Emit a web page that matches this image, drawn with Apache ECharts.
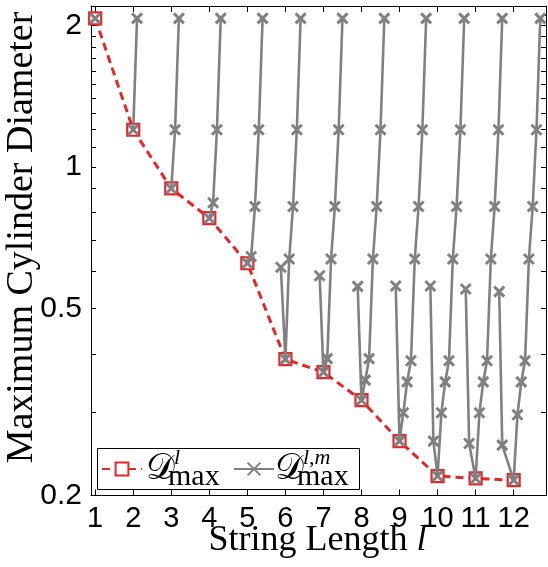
<!DOCTYPE html>
<html><head><meta charset="utf-8">
<script src="https://cdn.jsdelivr.net/npm/echarts@6/dist/echarts.min.js"></script>
<style>html,body{margin:0;padding:0;background:#fff}#c{width:548px;height:567px}</style>
</head><body><div id="c"></div>
<script>
// String length l and the maximum cylinder diameter D^l_max
const lengths = [1, 2, 3, 4, 5, 6, 7, 8, 9, 10, 11, 12];
const dMax = [2.07, 1.20, 0.90, 0.778, 0.624, 0.390, 0.366, 0.319, 0.261, 0.220, 0.2174, 0.2156];

// D^{l,m}_max curves, one per string length: [x, value]
const g1 = [[1.0, 2.07]];
const g2 = [[2.0, 1.20], [2.1, 2.07]];
const g3 = [[3.0, 0.90], [3.1, 1.20], [3.2, 2.07]];
const g4 = [[4.0, 0.778], [4.1, 0.839], [4.2, 1.20], [4.3, 2.07]];
const g5 = [[5.0, 0.624], [5.1, 0.645], [5.2, 0.824], [5.3, 1.20], [5.4, 2.07]];
const g6 = [[5.88, 0.612], [6.0, 0.390], [6.1, 0.637], [6.2, 0.824], [6.3, 1.20], [6.4, 2.07]];
const g7 = [[6.9, 0.587], [7.0, 0.366], [7.1, 0.391], [7.2, 0.637], [7.3, 0.824], [7.4, 1.20], [7.5, 2.07]];
const g8 = [[7.9, 0.557], [8.0, 0.319], [8.1, 0.352], [8.2, 0.391], [8.3, 0.637], [8.4, 0.824], [8.5, 1.20], [8.6, 2.07]];
const g9 = [[8.9, 0.558], [9.0, 0.261], [9.1, 0.300], [9.2, 0.349], [9.3, 0.387], [9.4, 0.637], [9.5, 0.824], [9.6, 1.20], [9.7, 2.07]];
const g10 = [[9.81, 0.558], [9.89, 0.261], [10.0, 0.220], [10.1, 0.300], [10.2, 0.349], [10.3, 0.387], [10.4, 0.637], [10.5, 0.824], [10.6, 1.20], [10.7, 2.07]];
const g11 = [[10.74, 0.550], [10.83, 0.258], [11.0, 0.2174], [11.1, 0.300], [11.2, 0.349], [11.3, 0.387], [11.4, 0.637], [11.5, 0.824], [11.6, 1.20], [11.7, 2.07]];
const g12 = [[11.62, 0.543], [11.70, 0.256], [12.0, 0.2156], [12.1, 0.297], [12.2, 0.349], [12.3, 0.387], [12.4, 0.637], [12.5, 0.824], [12.6, 1.20], [12.7, 2.07]];
const grayCurves = [g1, g2, g3, g4, g5, g6, g7, g8, g9, g10, g11, g12];

// ticks
const xTicks = [1, 2, 3, 4, 5, 6, 7, 8, 9, 10, 11, 12];
const yTicks = [0.2, 0.3, 0.4, 0.5, 0.6, 0.7, 0.8, 0.9, 1.0, 1.1, 1.2, 1.3, 1.4, 1.5, 1.6, 1.7, 1.8, 1.9, 2.0, 2.1, 2.2];
const yLabels = [0.2, 0.5, 1, 2];

const RED = '#e5262b';
const GRAY = '#808080';
const X_SYMBOL = 'path://M0,0L10,10M0,10L10,0';
const SERIF = '"Liberation Serif", "DejaVu Serif", serif';
const SANS = '"Liberation Sans", Arial, sans-serif';

const chart = echarts.init(document.getElementById('c'), null, {renderer: 'canvas'});

function xAxisCfg(pos, showLabel) {
  return {
    type: 'value', position: pos, min: 0.89, max: 12.85,
    axisLine: {show: true, onZero: false, lineStyle: {color: '#000', width: 1}},
    axisTick: {show: true, inside: true, length: 6, customValues: xTicks, lineStyle: {color: '#000', width: 1}},
    axisLabel: {show: showLabel, customValues: xTicks, fontSize: 29, color: '#000', fontFamily: SANS, margin: 9},
    splitLine: {show: false}
  };
}
function yAxisCfg(pos, showLabel) {
  return {
    type: 'log', logBase: 10, position: pos, min: 0.2, max: 2.2,
    axisLine: {show: true, onZero: false, lineStyle: {color: '#000', width: 1}},
    axisTick: {show: true, inside: true, length: 5, customValues: yTicks, lineStyle: {color: '#000', width: 1}},
    axisLabel: {show: showLabel, customValues: yLabels, fontSize: 30, color: '#000', fontFamily: SANS, margin: 9,
      formatter: v => String(Math.round(v * 10) / 10)},
    splitLine: {show: false}, minorTick: {show: false}
  };
}

const series = [{
  name: 'Dl', type: 'line', xAxisIndex: 0, yAxisIndex: 0,
  data: lengths.map((l, i) => [l, dMax[i]]),
  lineStyle: {color: RED, width: 3, type: [8, 5]},
  symbol: 'rect', symbolSize: 12,
  itemStyle: {color: '#fff', borderColor: RED, borderWidth: 2.2},
  z: 2, animation: false
}];
grayCurves.forEach(g => series.push({
  name: 'Dlm', type: 'line', xAxisIndex: 0, yAxisIndex: 0,
  data: g,
  lineStyle: {color: GRAY, width: 2.6},
  symbol: X_SYMBOL, symbolSize: 10,
  itemStyle: {color: GRAY, borderColor: GRAY, borderWidth: 3},
  z: 3, animation: false
}));

function legendCfg(name, left) {
  return {
    left: left, top: 461, orient: 'horizontal', z: 20,
    padding: 0, itemGap: 0, itemWidth: 40, itemHeight: 16,
    data: [name], formatter: () => '', selectedMode: false,
    textStyle: {fontSize: 1}
  };
}

const option = {
  backgroundColor: '#fff',
  animation: false,
  grid: {left: 91, right: 2, top: 6, bottom: 71.5, containLabel: false},
  xAxis: [xAxisCfg('bottom', true), xAxisCfg('top', false)],
  yAxis: [yAxisCfg('left', true), yAxisCfg('right', false)],
  legend: [legendCfg('Dl', 101), legendCfg('Dlm', 233)],
  graphic: [
    {type: 'text', x: 22, y: 237.5, rotation: Math.PI / 2,
      style: {text: 'Maximum Cylinder Diameter', font: '38px ' + SERIF, fill: '#000', align: 'center', verticalAlign: 'middle'}},
    {type: 'text', x: 317.5, y: 541,
      style: {text: '{a|String Length }{b|l}', align: 'center', verticalAlign: 'middle', fill: '#000',
        rich: {a: {fontSize: 36, fontFamily: SERIF, fill: '#000'}, b: {fontSize: 36, fontFamily: SERIF, fontStyle: 'italic', fill: '#000'}}}},
    // legend box and labels
    {type: 'rect', z: 10, shape: {x: 97.5, y: 448.5, width: 262, height: 41},
      style: {fill: '#fff', stroke: '#000', lineWidth: 1}},
    {type: 'text', x: 146, y: 470, z: 30, style: {text: '\u{1D49F}', font: '36px ' + SERIF, fill: '#000', align: 'left', verticalAlign: 'middle'}},
    {type: 'text', x: 174, y: 458, z: 30, style: {text: 'l', font: 'italic 22px ' + SERIF, fill: '#000', align: 'left', verticalAlign: 'middle'}},
    {type: 'text', x: 168, y: 477, z: 30, style: {text: 'max', font: '30px ' + SERIF, fill: '#000', align: 'left', verticalAlign: 'middle'}},
    {type: 'text', x: 275, y: 470, z: 30, style: {text: '\u{1D49F}', font: '36px ' + SERIF, fill: '#000', align: 'left', verticalAlign: 'middle'}},
    {type: 'text', x: 303, y: 458, z: 30, style: {text: 'l,m', font: 'italic 22px ' + SERIF, fill: '#000', align: 'left', verticalAlign: 'middle'}},
    {type: 'text', x: 297, y: 477, z: 30, style: {text: 'max', font: '30px ' + SERIF, fill: '#000', align: 'left', verticalAlign: 'middle'}}
  ],
  series: series
};
chart.setOption(option);
</script>
</body></html>
